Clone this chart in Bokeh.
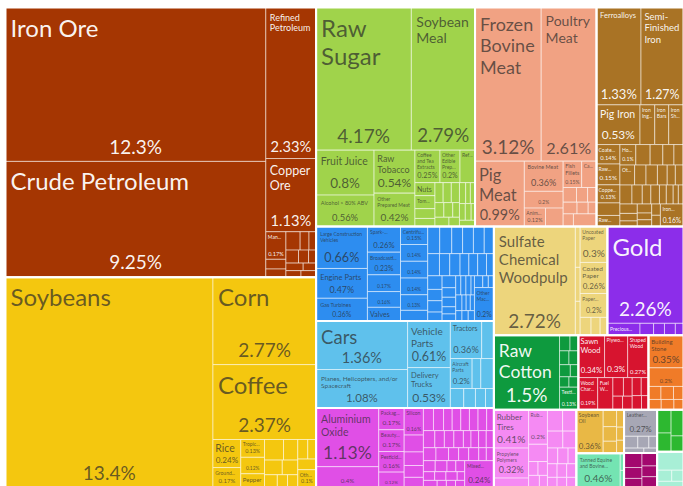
from bokeh.plotting import figure
from bokeh.models import ColumnDataSource, Range1d
from bokeh.core.properties import value
from bokeh.embed import file_html
from bokeh.resources import INLINE

# ---------------- data (share of exports, %) ----------------
MINERAL_NAMES = ["Iron Ore", "Crude Petroleum", "Refined Petroleum", "Copper Ore", "Manganese Ore"]
MINERAL_VALUES = [12.3, 9.25, 2.33, 1.13, 0.17, 0.06, 0.05, 0.08, 0.05, 0.04, 0.05, 0.04, 0.03,
                  0.04, 0.03, 0.03, 0.03]

VEG_NAMES = ["Soybeans", "Corn", "Coffee", "Rice", "Ground Nuts", "Tropical Fruits", "Melons",
             "Pepper", "Other Fruits"]
VEG_VALUES = [13.4, 2.77, 2.37, 0.24, 0.17, 0.13, 0.12, 0.10, 0.10, 0.12, 0.09, 0.08, 0.07,
              0.05, 0.04, 0.04, 0.06, 0.05, 0.06]

FOOD_NAMES = ["Raw Sugar", "Soybean Meal", "Fruit Juice", "Alcohol > 80% ABV", "Raw Tobacco",
              "Other Prepared Meat", "Coffee and Tea Extracts", "Other Edible Preparations",
              "Refined Sugar", "Nuts", "Tomatoes"]
FOOD_VALUES = [4.17, 2.79, 0.8, 0.56, 0.54, 0.42, 0.25, 0.2, 0.15, 0.08, 0.08, 0.06, 0.05, 0.05,
               0.05, 0.05, 0.04, 0.04, 0.03, 0.04, 0.03, 0.04, 0.03, 0.03, 0.03, 0.03, 0.02, 0.03]

ANIMAL_NAMES = ["Frozen Bovine Meat", "Poultry Meat", "Pig Meat", "Bovine Meat", "Edible Offal",
                "Animal Fats", "Fish Fillets", "Cattle Hides"]
ANIMAL_VALUES = [3.12, 2.61, 0.99, 0.36, 0.2, 0.12, 0.15, 0.12, 0.1, 0.06, 0.05, 0.04, 0.05,
                 0.04, 0.03, 0.04, 0.09]

METAL_NAMES = ["Ferroalloys", "Semi-Finished Iron", "Pig Iron", "Iron Ingots", "Iron Bars",
               "Iron Sheets", "Coated Flat-Rolled Iron", "Raw Aluminium", "Copper Wire",
               "Raw Zinc", "Hot-Rolled Iron", "Other Iron Products", "Iron Pipes"]
METAL_VALUES = [1.33, 1.27, 0.53, 0.18, 0.17, 0.18, 0.14, 0.15, 0.13, 0.08, 0.10, 0.09, 0.16,
                0.09, 0.09, 0.08, 0.07, 0.06, 0.07, 0.07, 0.06, 0.05, 0.05, 0.07, 0.06, 0.05,
                0.05, 0.04, 0.04, 0.03, 0.03, 0.05, 0.04, 0.03, 0.04, 0.03, 0.03, 0.03, 0.03]

MACHINE_NAMES = ["Large Construction Vehicles", "Engine Parts", "Gas Turbines",
                 "Spark-Ignition Engines", "Broadcasting Equipment", "Transmissions",
                 "Air Pumps", "Valves", "Centrifuges", "Liquid Pumps", "Refrigerators",
                 "Electric Motors", "Insulated Wire", "Other Machinery"]
MACHINE_VALUES = [0.66, 0.47, 0.36, 0.26, 0.23, 0.17, 0.16, 0.14, 0.15, 0.14, 0.14, 0.14, 0.13,
                  0.2, 0.09, 0.10, 0.10, 0.09, 0.09, 0.09, 0.08, 0.08, 0.07, 0.07, 0.06, 0.06,
                  0.06, 0.05, 0.06, 0.05, 0.05, 0.04, 0.05, 0.04, 0.04, 0.03, 0.03, 0.03, 0.03,
                  0.03, 0.02, 0.03, 0.02, 0.02, 0.02, 0.02, 0.02, 0.02, 0.03, 0.02, 0.02]

TRANSPORT_NAMES = ["Cars", "Planes, Helicopters, and/or Spacecraft", "Vehicle Parts",
                   "Delivery Trucks", "Tractors", "Aircraft Parts"]
TRANSPORT_VALUES = [1.36, 1.08, 0.61, 0.53, 0.36, 0.2, 0.14, 0.08, 0.12, 0.08, 0.07, 0.06, 0.05]

CHEM_NAMES = ["Aluminium Oxide", "Acyclic Alcohols", "Packaged Medicaments", "Beauty Products",
              "Pesticides", "Nitrogen Heterocyclic Compounds", "Silicon", "Mixed Fertilizers"]
CHEM_VALUES = [1.13, 0.4, 0.17, 0.17, 0.16, 0.12, 0.16, 0.24, 0.1, 0.08, 0.07, 0.06, 0.07,
               0.07, 0.06, 0.06, 0.06, 0.06, 0.06, 0.05, 0.06, 0.05, 0.05, 0.05, 0.04, 0.04,
               0.04, 0.04, 0.05, 0.05, 0.04, 0.04, 0.04, 0.03, 0.03, 0.04, 0.04, 0.03, 0.03,
               0.03, 0.03, 0.03, 0.02, 0.03, 0.02, 0.02, 0.02]

PAPER_NAMES = ["Sulfate Chemical Woodpulp", "Uncoated Paper", "Coated Paper", "Paper Containers"]
PAPER_VALUES = [2.72, 0.3, 0.26, 0.2, 0.06, 0.05, 0.05, 0.06, 0.05, 0.04]

GOLD_NAMES = ["Gold", "Precious Metal Scraps"]
GOLD_VALUES = [2.26, 0.12, 0.05, 0.04, 0.04, 0.03]

TEXTILE_NAMES = ["Raw Cotton", "Textile Fabrics"]
TEXTILE_VALUES = [1.5, 0.13, 0.05, 0.04, 0.04, 0.04, 0.04, 0.03, 0.03, 0.03]

WOOD_NAMES = ["Sawn Wood", "Plywood", "Shaped Wood", "Wood Charcoal", "Fuel Wood"]
WOOD_VALUES = [0.34, 0.3, 0.27, 0.19, 0.15, 0.06, 0.05, 0.04, 0.04, 0.05, 0.04, 0.04, 0.03]

STONE_NAMES = ["Building Stone", "Glazed Ceramics"]
STONE_VALUES = [0.35, 0.2, 0.05, 0.05, 0.04, 0.04, 0.04, 0.03]

PLASTIC_NAMES = ["Rubber Tires", "Propylene Polymers", "Rubber Pipes"]
PLASTIC_VALUES = [0.41, 0.32, 0.2, 0.1, 0.1, 0.04, 0.04, 0.04, 0.03, 0.1, 0.09, 0.08, 0.07,
                  0.05, 0.05, 0.04, 0.04, 0.04, 0.04, 0.03, 0.03, 0.03]

OIL_NAMES = ["Soybean Oil"]
OIL_VALUES = [0.36, 0.07, 0.06, 0.05, 0.04, 0.03, 0.03]

HIDE_NAMES = ["Tanned Equine and Bovine Hides"]
HIDE_VALUES = [0.46, 0.02, 0.02]

FOOTWEAR_NAMES = ["Leather Footwear"]
FOOTWEAR_VALUES = [0.27, 0.05, 0.04, 0.03, 0.03, 0.02]

INSTRUMENT_NAMES = []
INSTRUMENT_VALUES = [0.08, 0.06, 0.05, 0.06, 0.05, 0.05]

MISC_NAMES = []
MISC_VALUES = [0.1, 0.08, 0.1, 0.06]

ART_NAMES = []
ART_VALUES = [0.15, 0.05, 0.04, 0.05]


# ---------------- layout structure (nesting only) ----------------
def H(*k):
    return ("h", k)


def V(*k):
    return ("v", k)


def span(a, b):
    return tuple(range(a, b + 1))


GROUPS = {
    "minerals": (MINERAL_NAMES, MINERAL_VALUES, "#A53602", True,
                 H(V(0, 1), V(2, 3, H(V(4, 5, 6), V(H(7, 8, 9), H(10, 11, 12), H(13, 14), H(15, 16)))))),
    "vegetables": (VEG_NAMES, VEG_VALUES, "#F4C70F", False,
                   H(0, V(1, 2, H(V(3, 4), V(5, 6, 7), V(H(9, 10), H(11, 12), H(13, 14, 15)), V(H(16, 17), 18, 8))))),
    "foodstuffs": (FOOD_NAMES, FOOD_VALUES, "#A0D34B", False,
                   V(H(0, 1), H(V(2, 3), V(4, 5), V(H(6, 7, 8), H(V(9, 10, 11, 12), V(H(13, 14, 15), H(16, 17, 18), H(19, 20)), V(H(21, 22, 23), H(24, 25, 26), 27)))))),
    "animal": (ANIMAL_NAMES, ANIMAL_VALUES, "#F1A283", False,
               V(H(0, 1), H(2, V(3, 4, H(5, 8)), V(H(6, 7), H(9, 10, 11), H(12, 13, 14), H(15, 16))))),
    "metals": (METAL_NAMES, METAL_VALUES, "#A97325", True,
               V(H(0, 1), H(2, 3, 4, 5), H(V(6, 7, 8, 13, 9), V(H(10, 14, 15, 16, 17), H(11, 18, 19, 20, 21, 22), H(*span(23, 30)), H(V(31, 32, 33), V(34, 35, 36), V(37, 38), 12))))),
    "machines": (MACHINE_NAMES, MACHINE_VALUES, "#2D8DF0", False,
                 H(V(0, 1, 2), V(3, 4, 5, 6, 7), V(8, 9, 10, 11, 12, 14),
                   V(H(*span(15, 20)), H(*span(21, 27)), H(V(*span(28, 31)), V(*span(32, 36)), V(H(*span(37, 40)), H(*span(41, 44)), H(*span(45, 47))), V(H(48, 49, 50), 13))))),
    "transport": (TRANSPORT_NAMES, TRANSPORT_VALUES, "#5FC1EC", False,
                  H(V(0, 1), V(2, 3), V(H(4, 6), H(5, 7, 8), H(9, 10, 11, 12)))),
    "chemicals": (CHEM_NAMES, CHEM_VALUES, "#E04FE6", False,
                  H(V(0, 1), V(2, 3, 4, 5), V(6, 8, 9, 10, 11),
                    V(H(*span(12, 19)), H(*span(20, 27)), H(*span(28, 34)), H(V(H(*span(35, 38)), H(*span(39, 42)), H(*span(43, 46))), 7)))),
    "paper": (PAPER_NAMES, PAPER_VALUES, "#EDD57C", False, H(0, V(4, 5, 6), V(1, 2, 3, H(7, 8, 9)))),
    "gold": (GOLD_NAMES, GOLD_VALUES, "#8C2DEA", True, V(0, H(1, 2, 3, 4, 5))),
    "textiles": (TEXTILE_NAMES, TEXTILE_VALUES, "#0E9A3E", True, H(0, V(H(2, 3), H(4, 5), H(6, 7), H(8, 9), 1))),
    "wood": (WOOD_NAMES, WOOD_VALUES, "#D7142F", True, V(H(0, 1, 2), H(3, 4, V(H(5, 6), H(7, 8)), V(H(9, 10), H(11, 12))))),
    "stone": (STONE_NAMES, STONE_VALUES, "#F07B28", False, V(0, 1, H(2, 3, 4), H(5, 6, 7))),
    "plastics": (PLASTIC_NAMES, PLASTIC_VALUES, "#F58AF3", False,
                 H(V(0, 1, 3), V(2, 4, H(5, 6), H(7, 8)), V(H(9, 10), H(11, 12), H(13, 14, 15), H(16, 17, 18), H(19, 20, 21)))),
    "oil": (OIL_NAMES, OIL_VALUES, "#E9B845", False, H(0, V(1, 2, 3), V(4, 5, 6))),
    "hides": (HIDE_NAMES, HIDE_VALUES, "#74E4B2", False, H(0, V(1, 2))),
    "footwear": (FOOTWEAR_NAMES, FOOTWEAR_VALUES, "#A7A7B5", False, V(0, H(1, 2, 3), H(4, 5))),
    "instruments": (INSTRUMENT_NAMES, INSTRUMENT_VALUES, "#A3086E", True, H(V(0, 1, 2), V(3, 4, 5))),
    "misc": (MISC_NAMES, MISC_VALUES, "#2DB830", True, H(V(0, 1), V(2, 3))),
    "arts": (ART_NAMES, ART_VALUES, "#A8EFD6", False, V(0, H(1, 2), 3)),
}

TOP = H(V("minerals", "vegetables"),
        V(H("foodstuffs", "animal", "metals"),
          H(V("machines", "transport", "chemicals"),
            V(H("paper", "gold"), H("textiles", "wood", "stone"),
              H("plastics", V("oil", "hides"), V("footwear", "instruments"), V("misc", "arts"))))))

# treemap frame in picture pixels
X0, Y0, X1, Y1 = 5, 7, 683, 487


def node_total(node, valfn):
    if isinstance(node, tuple):
        return sum(node_total(k, valfn) for k in node[1])
    return valfn(node)


def layout_node(node, valfn, x0, y0, x1, y1, cb):
    if not isinstance(node, tuple):
        cb(node, x0, y0, x1, y1)
        return
    orient, kids = node
    sums = [node_total(k, valfn) for k in kids]
    S = sum(sums)
    pos = x0 if orient == "h" else y0
    for k, s in zip(kids, sums):
        if orient == "h":
            nxt = pos + (x1 - x0) * s / S
            layout_node(k, valfn, pos, y0, nxt, y1, cb)
        else:
            nxt = pos + (y1 - y0) * s / S
            layout_node(k, valfn, x0, pos, x1, nxt, cb)
        pos = nxt


# ---------------- text fitting ----------------
CW = {}
for ch, w in zip("abcdefghijklmnopqrstuvwxyz",
                 [.49, .55, .45, .55, .51, .31, .5, .55, .24, .24, .5, .24, .83, .55, .55, .55, .55,
                  .36, .42, .34, .55, .5, .76, .49, .5, .45]):
    CW[ch] = w
for ch, w in zip("ABCDEFGHIJKLMNOPQRSTUVWXYZ",
                 [.68, .63, .68, .73, .56, .54, .72, .75, .28, .4, .65, .5, .9, .75, .79, .6, .79,
                  .62, .53, .58, .72, .68, 1.0, .65, .63, .6]):
    CW[ch] = w
for ch in "0123456789":
    CW[ch] = .58
CW.update({"%": .8, ".": .22, ",": .22, " ": .2, "-": .33, "/": .35, ">": .55, "&": .7})


def tw(s, size):
    return sum(CW.get(c, .55) for c in s) * size * 1.04


def tokens(name):
    # break points after spaces and after hyphens
    out = []
    for word in name.split():
        parts = word.split("-")
        for j, pt in enumerate(parts):
            out.append(pt + "-" if j < len(parts) - 1 else pt)
    return out


def join(cur, tok):
    if not cur:
        return tok
    return cur + tok if cur.endswith("-") else cur + " " + tok


def wrap(toks, size, maxw, strict=True):
    lines, cur = [], ""
    for tk in toks:
        cand = join(cur, tk)
        if tw(cand, size) <= maxw:
            cur = cand
        else:
            if cur:
                lines.append(cur)
            if strict and tw(tk, size) > maxw:
                return None
            cur = tk
    if cur:
        lines.append(cur)
    return lines


def trunc(s, size, maxw):
    while s and tw(s + "...", size) > maxw:
        s = s[:-1]
    return s + "..." if s else None


def fit_name(name, w, havail, pad):
    avail = w - 2 * pad
    toks = tokens(name)
    size = 24.0
    while size >= 5:
        lines = wrap(toks, size, avail)
        if lines is not None and len(lines) * size * 1.2 <= havail:
            return size, lines
        size -= 0.5
    size = 5.0
    nmax = int(havail // (size * 1.2))
    if nmax < 1:
        return None
    lines = wrap(toks, size, avail, strict=False)
    cut = len(lines) > nmax
    lines = lines[:nmax]
    out = []
    for i, ln in enumerate(lines):
        last = (i == len(lines) - 1)
        if tw(ln, size) > avail or (last and cut):
            t = trunc(ln, size, avail)
            if t is None:
                break
            out.append(t)
            break
        out.append(ln)
    if not out:
        return None
    return size, out


def fmt(v):
    return f"{v:.3g}%"


# ---------------- build geometry ----------------
leaves = dict(left=[], right=[], top=[], bottom=[], color=[])
groups = dict(left=[], right=[], top=[], bottom=[])
names_t = dict(x=[], y=[], text=[], size=[], color=[], alpha=[])
pct_t = dict(x=[], y=[], text=[], size=[], color=[], alpha=[])


def place_group(key, x0, y0, x1, y1):
    names, vals, color, light_text, spec = GROUPS[key]
    groups["left"].append(x0); groups["right"].append(x1)
    groups["top"].append(y0); groups["bottom"].append(y1)
    tcol = "#ffffff" if light_text else "#2a2a2a"
    talpha = 0.95 if light_text else 0.7

    def leaf(i, a, b, c, d):
        leaves["left"].append(a); leaves["right"].append(c)
        leaves["top"].append(b); leaves["bottom"].append(d)
        leaves["color"].append(color)
        if i >= len(names) or not names[i]:
            return
        w, h = c - a, d - b
        pad = min(5.0, max(2.0, 0.08 * w))
        ptxt = fmt(vals[i])
        psize = min(19.0, (w - 2 * pad) / (tw(ptxt, 1.0)), 0.3 * h)
        if psize >= 4.5:
            # top-anchored so that the digits' baseline sits a little above the cell bottom
            pct_t["x"].append((a + c) / 2); pct_t["y"].append(d - 2.5 - 1.27 * psize)
            pct_t["text"].append(ptxt); pct_t["size"].append(f"{psize:.1f}px")
            pct_t["color"].append(tcol); pct_t["alpha"].append(talpha)
            havail = h - pad - (psize * 1.25 + 3)
        else:
            havail = h - 2 * pad
        res = fit_name(names[i], w, havail, pad)
        if res is None:
            return
        size, lines = res
        for j, ln in enumerate(lines):
            names_t["x"].append(a + pad); names_t["y"].append(b + pad + j * size * 1.2)
            names_t["text"].append(ln); names_t["size"].append(f"{size:.1f}px")
            names_t["color"].append(tcol); names_t["alpha"].append(talpha)

    layout_node(spec, lambda i: vals[i], x0, y0, x1, y1, leaf)


layout_node(TOP, lambda k: sum(GROUPS[k][1]), X0, Y0, X1, Y1, place_group)

# ---------------- figure ----------------
p = figure(width=683, height=486, output_backend="svg", toolbar_location=None,
           x_range=Range1d(0, 683), y_range=Range1d(486, 0), min_border=0)
p.axis.visible = False
p.grid.visible = False
p.outline_line_color = None
p.background_fill_color = "white"
p.border_fill_color = "white"

p.quad(left="left", right="right", top="top", bottom="bottom", fill_color="color",
       line_color="white", line_alpha=0.5, line_width=1, source=ColumnDataSource(leaves))
p.quad(left="left", right="right", top="top", bottom="bottom", fill_alpha=0,
       line_color="white", line_width=2, source=ColumnDataSource(groups))

p.text(x="x", y="y", text="text", text_font_size="size", text_color="color", text_alpha="alpha",
       text_font=value("Lato"), text_baseline="top", text_align="left",
       source=ColumnDataSource(names_t))
p.text(x="x", y="y", text="text", text_font_size="size", text_color="color", text_alpha="alpha",
       text_font=value("Lato"), text_baseline="top", text_align="center",
       source=ColumnDataSource(pct_t))

open("out.html", "w").write(file_html(p, INLINE))
